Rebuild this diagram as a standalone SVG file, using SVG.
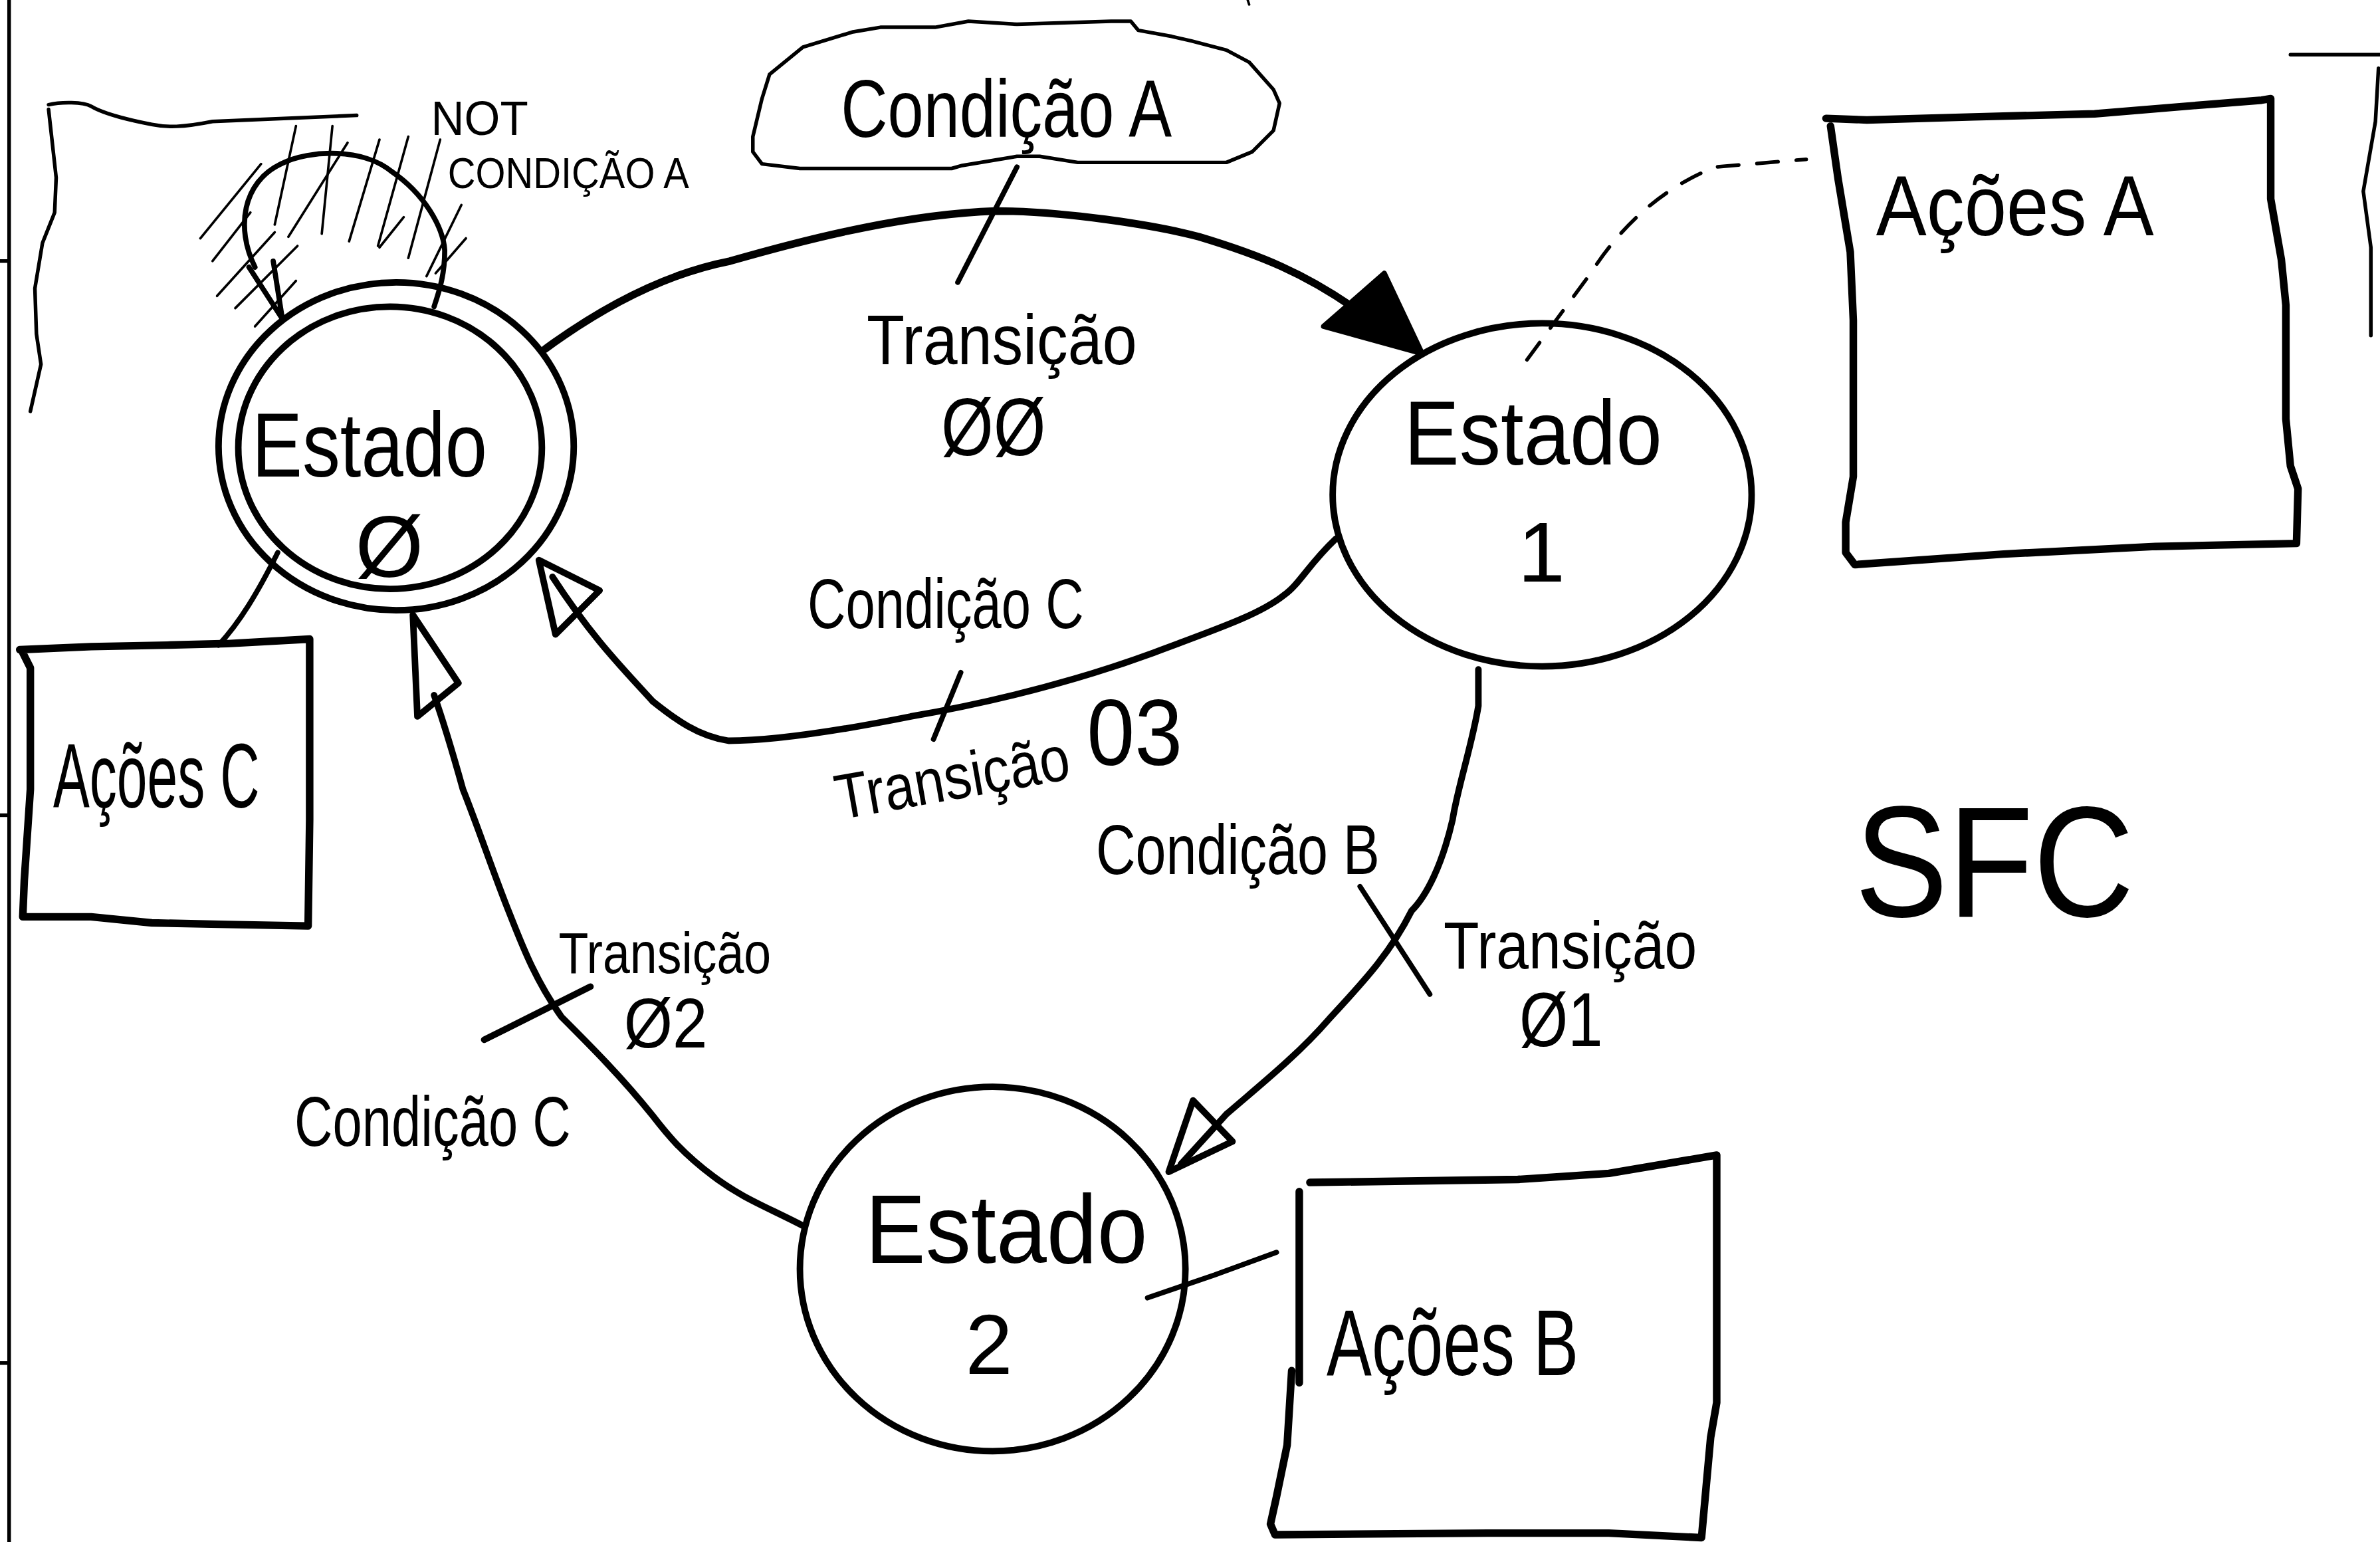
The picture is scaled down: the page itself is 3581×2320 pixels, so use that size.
<svg xmlns="http://www.w3.org/2000/svg" width="3581" height="2320" viewBox="0 0 3581 2320">
<style>
.s{fill:none;stroke:#000;stroke-linecap:round;stroke-linejoin:round}
.w5{stroke-width:5}
.w4{stroke-width:4.3}
.w3{stroke-width:3.4}
.w2{stroke-width:2.4}
.w1{stroke-width:1.6}
.t{font-family:"Liberation Sans",Arial,sans-serif;fill:#000}
.dash{stroke-dasharray:14 12}
</style>
<rect x="0" y="0" width="3581" height="2320" fill="#fff"/>
<g transform="scale(2.2838)">
  <g id="frame">
    <path class="s w2" d="M6,0 L6,1016 M0,172 L6,172 M0,537 L6,537 M0,898 L6,898"/>
    <path class="s w2" d="M32,69 C40,67 55,67 60,70 C70,76 90,80 100,82 C110,84 120,84 140,80 L235,76 M32,72 L37,117 L36,140 L28,160 L23,190 L24,220 L27,240 L20,271"/>
    <path class="s w2" d="M1509,36 L1568,36 M1567,45 L1565,80 L1557,126 L1562,163 L1562,221"/>
    <path class="s w1" d="M822,0 L823,3"/>
  </g>

  <g id="hatch" class="s w1">
    <path d="M132,157 L172,108"/>
    <path d="M140,172 L165,140"/>
    <path d="M143,195 L181,153"/>
    <path d="M155,203 L196,162"/>
    <path d="M168,215 L195,185"/>
    <path d="M181,148 L195,83"/>
    <path d="M190,156 L229,94"/>
    <path d="M212,154 L219,83"/>
    <path d="M230,159 L250,92"/>
    <path d="M249,162 L269,90"/>
    <path d="M250,163 L266,143"/>
    <path d="M269,170 L290,92"/>
    <path d="M281,182 L304,135"/>
    <path d="M287,180 L307,157"/>
  </g>

  <g id="connectors">
    <path class="s w3" d="M168,176 C155,150 160,120 185,108 C205,98 240,98 258,113 C280,128 292,150 293,165 C293,180 290,190 286,202"/>
    <path class="s w3" d="M164,176 L186,210 L180,172"/>
    <path class="s w5" d="M359,230 C400,200 440,180 481,172 C540,155 600,141 656,139 C700,139 760,148 790,156 C830,168 860,180 895,205 L912,220"/>
    <polygon points="872,215 912,180 937,233" fill="#000" stroke="#000" stroke-width="3.4" stroke-linejoin="round"/>
    <path class="s w3" d="M670,110 L631,186"/>
    <path class="s w4" d="M974,441 L974,465 C970,490 960,520 957,540 C950,570 940,590 930,600 C915,630 895,650 875,672 C855,695 830,715 808,734 L778,767"/>
    <polygon class="s w4" points="786,725 812,752 770,772"/>
    <path class="s w3" d="M896,584 L942,655"/>
    <path class="s w4" d="M530,808 C505,795 490,790 470,775 C450,760 440,748 430,735 C410,710 390,690 370,670 C352,645 343,620 335,600 C325,575 315,545 305,520 C298,495 292,475 286,458"/>
    <polygon class="s w4" points="272,405 302,450 275,472"/>
    <path class="s w4" d="M319,685 L389,650"/>
    <path class="s w4" d="M880,355 C862,372 856,385 846,392 C830,405 800,415 760,430 C700,452 640,465 600,472 C550,482 510,488 480,488 C460,485 445,474 430,462 C410,440 390,420 364,380"/>
    <polygon class="s w4" points="355,369 395,389 366,418"/>
    <path class="s w3" d="M633,443 L615,487"/>
    <path class="s w3" d="M183,364 C170,390 158,410 144,425"/>
    <path class="s w3" d="M756,855 L800,840 L841,825"/>
    <path class="s w2 dash" d="M1006,237 L1048,180 Q1080,130 1130,110 L1190,105"/>
  </g>

  <g id="estado0">
    <ellipse class="s w4" cx="261" cy="294" rx="117" ry="108"/>
    <ellipse class="s w4" cx="257" cy="295" rx="100" ry="93"/>
    <text class="t" x="166" y="314" font-size="60" textLength="155" lengthAdjust="spacingAndGlyphs">Estado</text>
    <text class="t" x="234" y="380" font-size="58" textLength="45" lengthAdjust="spacingAndGlyphs">Ø</text>
  </g>

  <g id="estado1">
    <ellipse class="s w4" cx="1016" cy="326" rx="138" ry="113"/>
    <text class="t" x="925" y="306" font-size="60" textLength="170" lengthAdjust="spacingAndGlyphs">Estado</text>
    <text class="t" x="1000" y="383" font-size="56">1</text>
  </g>

  <g id="estado2">
    <ellipse class="s w4" cx="654" cy="836" rx="127" ry="120"/>
    <text class="t" x="570" y="832" font-size="64" textLength="186" lengthAdjust="spacingAndGlyphs">Estado</text>
    <text class="t" x="636" y="905" font-size="56">2</text>
  </g>

  <g id="condicaoA">
    <path class="s w2" d="M496,100 L496,90 L502,65 L507,49 L529,31 L562,21 L580,18 L616,18 L638,14 L670,16 L732,14 L745,14 L750,20 L772,24 L785,27 L808,33 L823,41 L839,59 L843,68 L839,86 L825,100 L808,107 L710,107 L685,103 L670,103 L634,109 L627,111 L527,111 L502,108 Z"/>
    <text class="t" x="554" y="90" font-size="54" textLength="218" lengthAdjust="spacingAndGlyphs">Condição A</text>
  </g>

  <g id="acoesA">
    <path class="s w5" d="M1203,78 L1230,79 L1300,77 L1380,75 L1440,70 L1490,66 L1496,65 L1496,131 L1503,171 L1506,201 L1506,276 L1509,307 L1514,322 L1513,358 L1420,360 L1320,365 L1222,372 L1216,364 L1216,344 L1221,314 L1221,211 L1219,166 L1211,118 L1206,83"/>
    <text class="t" x="1236" y="155" font-size="56" textLength="183" lengthAdjust="spacingAndGlyphs">Ações A</text>
  </g>

  <g id="acoesB">
    <path class="s w5" d="M863,779 L1000,777 L1060,773 L1131,761 L1131,924 L1127,947 L1124,980 L1121,1013 L1060,1010 L980,1010 L840,1011 L837,1004 L841,986 L848,952 L851,903 M856,785 L856,911"/>
    <text class="t" x="874" y="906" font-size="62" textLength="166" lengthAdjust="spacingAndGlyphs">Ações B</text>
  </g>

  <g id="acoesC">
    <path class="s w5" d="M13,428 L60,426 L110,425 L150,424 L204,421 L204,540 L203,610 L150,609 L100,608 L60,604 L15,604 L16,580 L20,520 L20,440 L15,430"/>
    <text class="t" x="35" y="532" font-size="60" textLength="136" lengthAdjust="spacingAndGlyphs">Ações C</text>
  </g>

  <g id="labels">
    <text class="t" x="284" y="89" font-size="32" textLength="64" lengthAdjust="spacingAndGlyphs">NOT</text>
    <text class="t" x="295" y="124" font-size="28" textLength="159" lengthAdjust="spacingAndGlyphs">CONDIÇÃO A</text>
    <text class="t" x="571" y="240" font-size="46" textLength="178" lengthAdjust="spacingAndGlyphs">Transição</text>
    <text class="t" x="620" y="300" font-size="54" textLength="69" lengthAdjust="spacingAndGlyphs">ØØ</text>
    <text class="t" x="532" y="414" font-size="46" textLength="182" lengthAdjust="spacingAndGlyphs">Condição C</text>
    <text class="t" x="553" y="540" font-size="42" textLength="156" lengthAdjust="spacingAndGlyphs" transform="rotate(-10 553 540)">Transição</text>
    <text class="t" x="716" y="504" font-size="62" textLength="63" lengthAdjust="spacingAndGlyphs">03</text>
    <text class="t" x="722" y="576" font-size="46" textLength="187" lengthAdjust="spacingAndGlyphs">Condição B</text>
    <text class="t" x="951" y="638" font-size="44" textLength="167" lengthAdjust="spacingAndGlyphs">Transição</text>
    <text class="t" x="1001" y="689" font-size="50" textLength="55" lengthAdjust="spacingAndGlyphs">Ø1</text>
    <text class="t" x="368" y="641" font-size="38" textLength="140" lengthAdjust="spacingAndGlyphs">Transição</text>
    <text class="t" x="411" y="690" font-size="46" textLength="55" lengthAdjust="spacingAndGlyphs">Ø2</text>
    <text class="t" x="194" y="755" font-size="46" textLength="182" lengthAdjust="spacingAndGlyphs">Condição C</text>
  </g>

  <g id="sfc">
    <text class="t" x="1222" y="604" font-size="104" textLength="184" lengthAdjust="spacingAndGlyphs">SFC</text>
  </g>
</g>
</svg>
